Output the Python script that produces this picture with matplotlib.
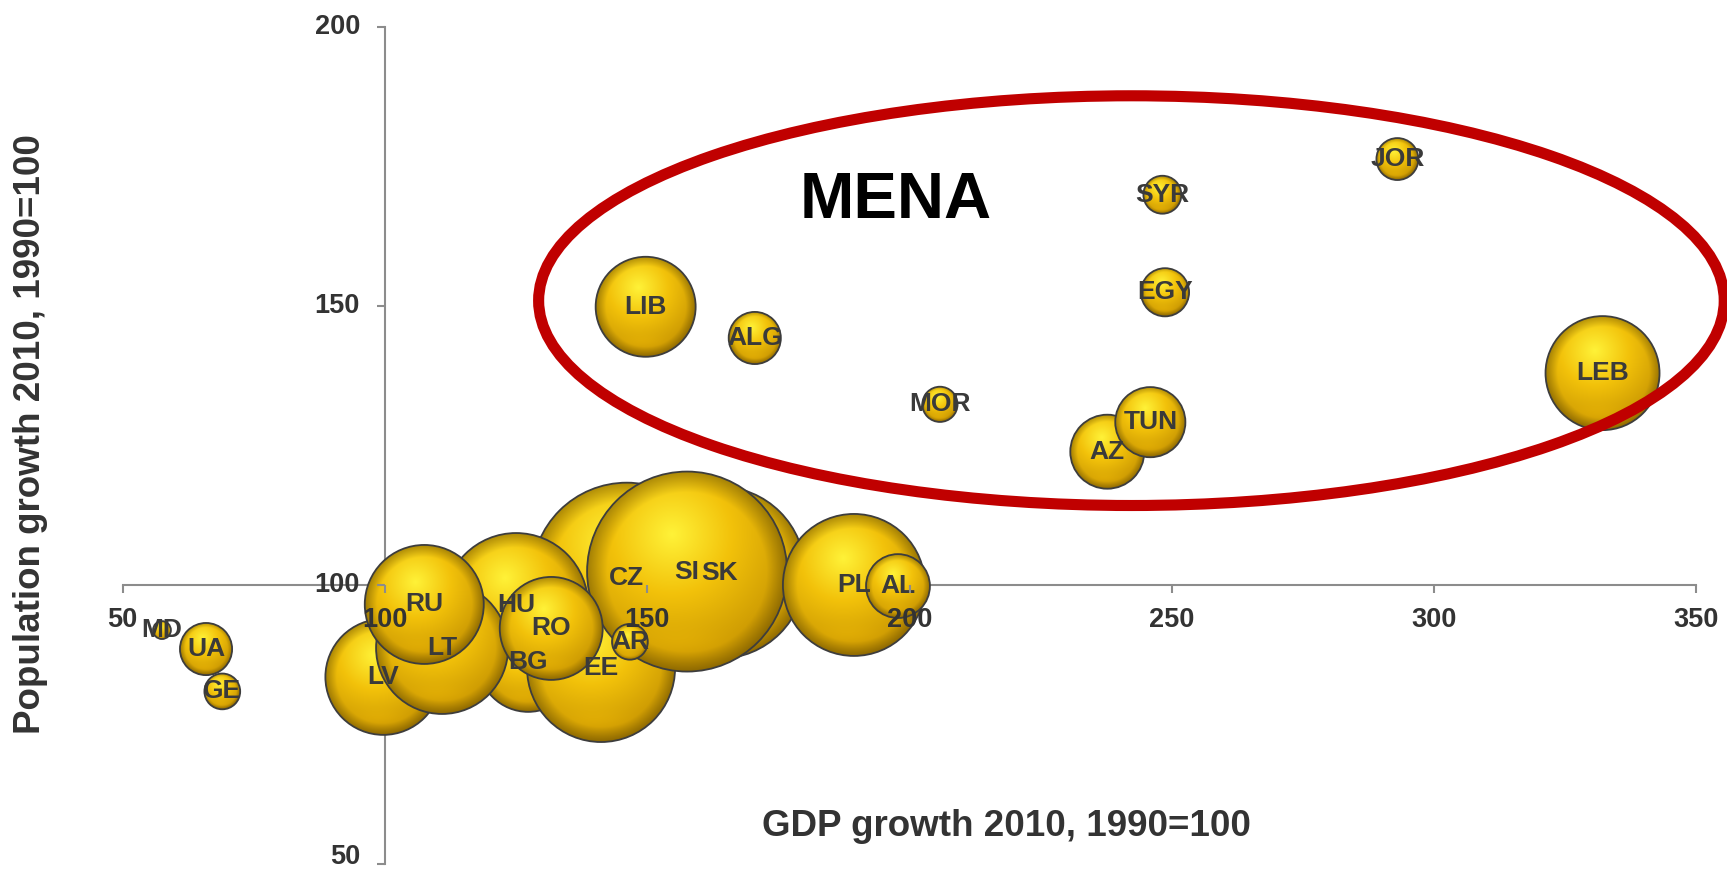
import numpy as np
import matplotlib
matplotlib.use('Agg')
import matplotlib.pyplot as plt
from matplotlib import patches
from matplotlib.transforms import offset_copy

plt.rcParams['font.family'] = ['Liberation Sans', 'DejaVu Sans']

# Dữ liệu: tăng trưởng GDP (x), tăng trưởng dân số (y), kích thước bong bóng
countries = ['MD', 'UA', 'GE', 'CZ', 'HU', 'BG', 'EE', 'LV', 'LT', 'RU',
             'SK', 'SI', 'RO', 'AR', 'PL', 'AL',
             'LIB', 'ALG', 'MOR', 'AZ', 'TUN', 'EGY', 'SYR', 'JOR', 'LEB']
gdp_growth = [57.5, 65.9, 69.0, 146.1, 125.0, 127.3, 141.2, 99.7, 110.9, 107.5,
              163.7, 157.6, 131.7, 146.7, 189.4, 197.8,
              149.7, 170.5, 205.8, 237.7, 245.9, 248.7, 248.2, 293.0, 332.1]
pop_growth = [91.9, 88.5, 80.9, 101.3, 96.4, 86.2, 85.1, 83.5, 88.7, 96.5,
              102.2, 102.4, 92.2, 89.8, 100.0, 99.8,
              149.9, 144.3, 132.4, 123.9, 129.2, 152.5, 170.0, 176.4, 138.0]
bubble = [0.8, 6.8, 3.2, 90.3, 51.8, 25.0, 54.8, 33.6, 43.6, 35.4,
          74.0, 100.0, 26.5, 3.2, 50.4, 10.2,
          25.0, 6.8, 3.1, 13.7, 12.3, 5.8, 3.6, 4.4, 32.5]

x_ticks = [50, 100, 150, 200, 250, 300, 350]
y_ticks = [50, 100, 150, 200]

W, H = 1727, 873
fig = plt.figure(figsize=(W / 100, H / 100), dpi=100)
ax_rect = [0.0710, 0.0107, 0.9113, 0.9578]
ax = fig.add_axes(ax_rect)
ax.set_xlim(50, 350)
ax.set_ylim(50, 200)
ax.autoscale(False)

# số pixel trên một đơn vị dữ liệu
ppx = ax_rect[2] * W / 300
ppy = ax_rect[3] * H / 150


def sphere_img(n=240):
    u = np.linspace(-1, 1, n)
    X, Y = np.meshgrid(u, u)
    R = np.sqrt(X ** 2 + Y ** 2)
    d = np.sqrt((X + 0.15) ** 2 + (Y - 0.38) ** 2)
    hi = np.array([1.0, 0.95, 0.22])
    mid = np.array([0.95, 0.76, 0.04])
    dark = np.array([0.74, 0.54, 0.0])
    t1 = np.clip(d / 0.6, 0, 1)[..., None]
    t2 = np.clip((d - 0.6) / 0.9, 0, 1)[..., None]
    col = hi + (mid - hi) * t1
    col = col + (dark - mid) * t2
    # tối dần ở mép
    rim = 1 - 0.28 * np.clip((R - 0.8) / 0.2, 0, 1)
    col = col * rim[..., None]
    # ánh phản chiếu nhẹ ở phía dưới
    refl = np.exp(-((X + 0.05) ** 2 / 0.25 + (Y + 0.72) ** 2 / 0.02)) * 0.12
    col = col + refl[..., None] * np.array([0.3, 0.25, 0.0])
    return np.clip(col, 0, 1)


img = sphere_img()

for i, (x, y, s) in enumerate(zip(gdp_growth, pop_growth, bubble)):
    r = 10 * np.sqrt(s)
    w, h = 2 * r / ppx, 2 * r / ppy
    z = 1 + i * 0.02
    im = ax.imshow(img, extent=[x - w / 2, x + w / 2, y - h / 2, y + h / 2],
                   origin='lower', aspect='auto', interpolation='bilinear', zorder=z)
    clip = patches.Ellipse((x, y), w, h, transform=ax.transData)
    im.set_clip_path(clip)
    ax.add_patch(patches.Ellipse((x, y), w, h, fill=False, ec='#3d3d3d',
                                 lw=1.3, zorder=z + 0.01))

ax.set_xlim(50, 350)
ax.set_ylim(50, 200)

for name, x, y in zip(countries, gdp_growth, pop_growth):
    ax.text(x, y, name, ha='center', va='center', fontsize=19,
            fontweight='bold', color='#3a3a3a', zorder=8)

# Vòng elip đỏ đánh dấu MENA
ax.add_patch(patches.Ellipse((242.3, 151.0), 226, 73.5, fill=False,
                             ec='#C00000', lw=8, zorder=6, clip_on=False))
ax.text(197.3, 168.8, 'MENA', ha='center', va='center', fontsize=47,
        fontweight='bold', color='black', zorder=8)

# Trục
for sp in ['top', 'right']:
    ax.spines[sp].set_visible(False)
ax.spines['left'].set_position(('data', 100))
ax.spines['bottom'].set_position(('data', 100))
for sp in ['left', 'bottom']:
    ax.spines[sp].set_color('#8c8c8c')
    ax.spines[sp].set_linewidth(1.5)
    ax.spines[sp].set_zorder(0.5)

ax.set_xticks(x_ticks)
ax.set_yticks(y_ticks)
ax.set_yticklabels([])
ax.tick_params(direction='out', length=6, width=1.5, color='#8c8c8c',
               labelsize=19.5, labelcolor='#333333')
ax.tick_params(axis='x', pad=10)
for lbl in ax.get_xticklabels():
    lbl.set_fontweight('bold')
ax.xaxis.set_zorder(9)
ax.yaxis.set_zorder(9)

# nhãn trục tung tự vẽ để nhãn "50" không bị cắt ở mép dưới
for v in y_ticks:
    ypx = ax.transData.transform((100, v))[1]
    dy = max(0, 16 - ypx)
    tr = offset_copy(ax.transData, fig=fig, x=-25, y=dy, units='dots')
    ax.text(100, v, str(v), transform=tr, ha='right', va='center',
            fontsize=19.5, fontweight='bold', color='#333333', zorder=9,
            clip_on=False)

fig.text(0.583, 0.0538, 'GDP growth 2010, 1990=100', ha='center', va='center',
         fontsize=26.5, fontweight='bold', color='#333333')
fig.text(0.0178, 0.503, 'Population growth 2010, 1990=100', ha='center',
         va='center', rotation=90, fontsize=26.5, fontweight='bold', color='#333333')

fig.savefig('out.png', dpi=100)
